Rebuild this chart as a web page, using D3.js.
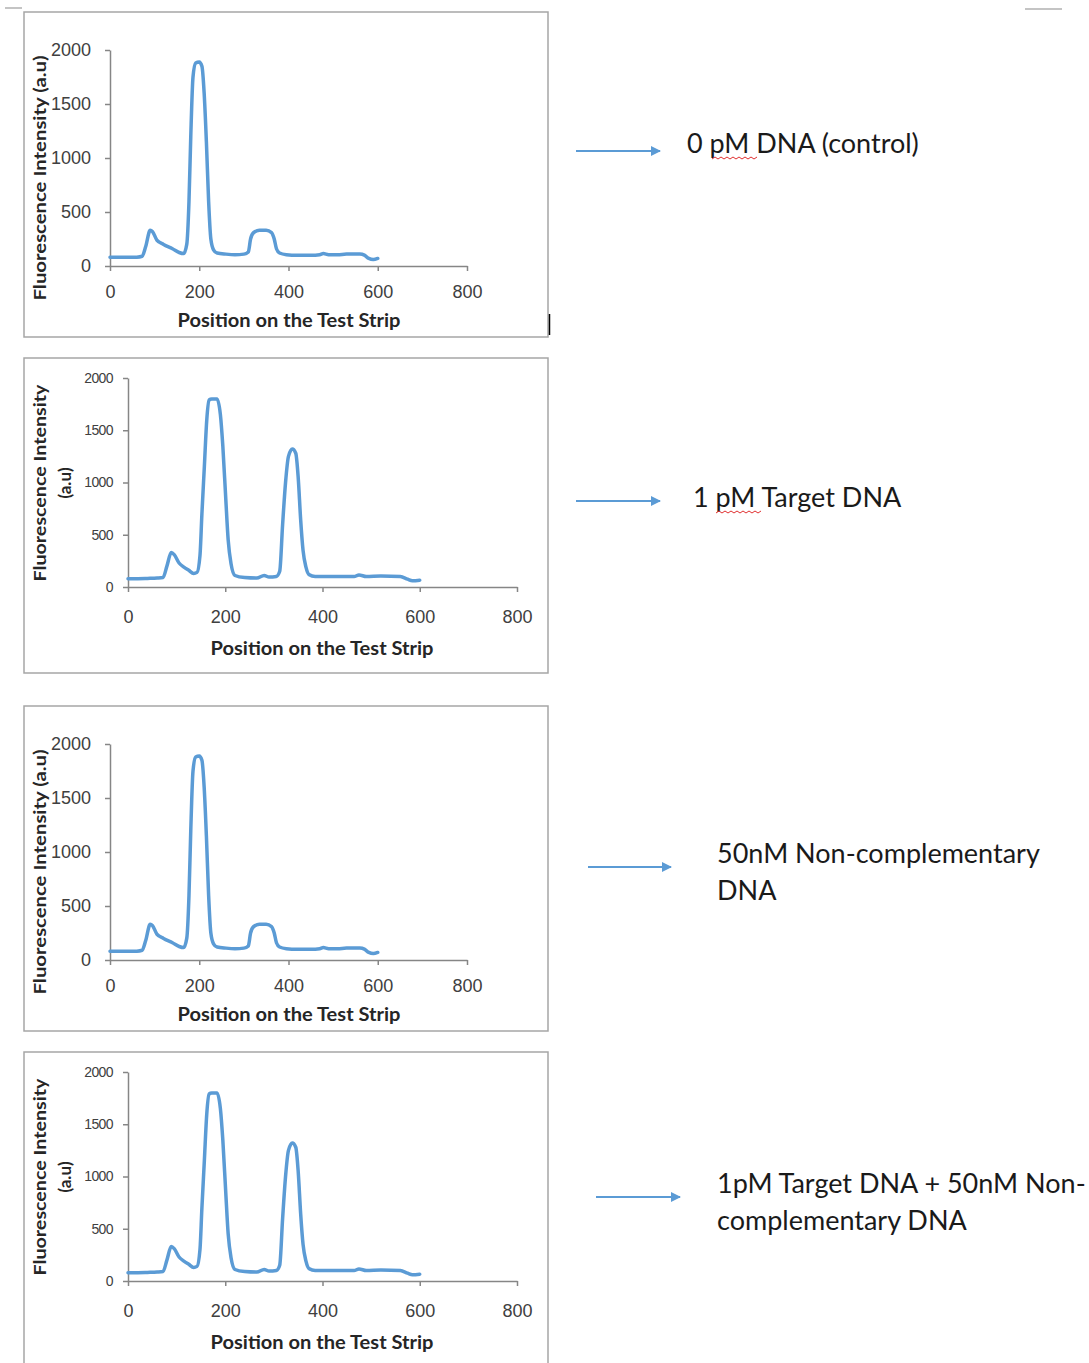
<!DOCTYPE html>
<html lang="en">
<head>
<meta charset="UTF-8">
<title>Test strip fluorescence profiles</title>
<script src="https://d3js.org/d3.v7.min.js"></script>
<style>
    body { margin: 0; background: #fff; }
    svg { display: block; font-family: Lato, "Open Sans", sans-serif; }
    .axis path, .axis line { stroke: #868686; stroke-width: 1.5; }
    .axis text { fill: #404040; }
</style>
</head>
<body>
<div id="chart"></div>
<script>
    // x positions and intensities
    const controlPos = [0, 20, 40, 60, 72, 80, 90, 95, 105, 120, 140, 155, 165, 172, 177, 181, 186, 192, 200, 206, 211, 216, 221, 226, 232, 240, 260, 280, 300, 310, 315, 322, 335, 350, 362, 368, 373, 380, 395, 420, 450, 470, 478, 490, 510, 530, 560, 570, 580, 590, 600];
    const controlVal = [80, 80, 80, 82, 90, 180, 330, 320, 240, 200, 160, 125, 115, 200, 600, 1200, 1750, 1880, 1890, 1850, 1600, 1150, 600, 250, 150, 120, 110, 105, 110, 130, 250, 310, 330, 330, 310, 250, 160, 120, 105, 100, 100, 105, 115, 105, 105, 110, 110, 100, 70, 60, 70];

    const targetPos = [0, 20, 40, 60, 72, 80, 89, 95, 105, 115, 125, 135, 142, 148, 152, 157, 162, 167, 172, 183, 190, 195, 201, 206, 212, 220, 240, 265, 280, 290, 305, 312, 318, 324, 330, 338, 345, 350, 355, 360, 366, 372, 385, 420, 465, 475, 490, 520, 560, 575, 585, 600];
    const targetVal = [80, 80, 82, 85, 90, 200, 330, 310, 230, 190, 160, 130, 140, 300, 700, 1150, 1600, 1790, 1800, 1800, 1650, 1350, 850, 450, 220, 110, 90, 85, 110, 95, 100, 150, 600, 1000, 1250, 1320, 1280, 1050, 650, 350, 190, 120, 100, 100, 100, 115, 100, 105, 100, 75, 60, 65];

    // 50nM non-complementary looks the same as the control, the mix the same as 1 pM target
    const nonCompPos = controlPos;
    const nonCompVal = controlVal;
    const mixPos = targetPos;
    const mixVal = targetVal;

    const xTicks = [0, 200, 400, 600, 800];
    const yTicks = [0, 500, 1000, 1500, 2000];
    const xTitle = "Position on the Test Strip";
    const labels = [
        ["0 pM DNA (control)"],
        ["1 pM Target DNA"],
        ["50nM Non-complementary", "DNA"],
        ["1pM Target DNA + 50nM Non-", "complementary DNA"]
    ];

    const blue = "#5B9BD5";
    const svg = d3.select("#chart").append("svg")
        .attr("width", 1089)
        .attr("height", 1363);

    // two chart styles: "a" = large tick labels, one-line y title; "b" = small y ticks, two-line title
    const panels = [
        { pos: controlPos, val: controlVal, style: "a", top: 12, bottom: 337, x0: 110, x1: 467, y0: 266, y1: 50,
          arrow: [576, 660, 151], text: [687, 153], squiggle: [712, 756] },
        { pos: targetPos, val: targetVal, style: "b", top: 358, bottom: 673, x0: 128, x1: 517, y0: 587, y1: 378,
          arrow: [576, 660, 501], text: [693, 507], squiggle: [716, 760] },
        { pos: nonCompPos, val: nonCompVal, style: "a", top: 706, bottom: 1031, x0: 110, x1: 467, y0: 960, y1: 744,
          arrow: [588, 671, 867], text: [717, 863] },
        { pos: mixPos, val: mixVal, style: "b", top: 1052, bottom: null, x0: 128, x1: 517, y0: 1281, y1: 1072,
          arrow: [596, 680, 1197], text: [717, 1193] }
    ];

    svg.append("defs").append("marker")
        .attr("id", "head")
        .attr("viewBox", "0 0 10 10")
        .attr("refX", 9).attr("refY", 5)
        .attr("markerWidth", 5).attr("markerHeight", 5)
        .attr("markerUnits", "strokeWidth")
        .attr("orient", "auto")
        .append("path")
        .attr("d", "M0,0 L10,5 L0,10 z")
        .attr("fill", blue);

    panels.forEach((p, i) => {
        const g = svg.append("g");

        // frame
        if (p.bottom) {
            g.append("rect")
                .attr("x", 24).attr("y", p.top)
                .attr("width", 524).attr("height", p.bottom - p.top)
                .attr("fill", "none").attr("stroke", "#a6a6a6").attr("stroke-width", 1.5);
        } else {
            g.append("path")
                .attr("d", `M24,1363 V${p.top} H548 V1363`)
                .attr("fill", "none").attr("stroke", "#a6a6a6").attr("stroke-width", 1.5);
        }

        const x = d3.scaleLinear().domain([0, 800]).range([p.x0, p.x1]);
        const y = d3.scaleLinear().domain([0, 2000]).range([p.y0, p.y1]);

        const xAxis = g.append("g").attr("class", "axis")
            .attr("transform", `translate(0,${p.y0})`)
            .call(d3.axisBottom(x).tickValues(xTicks).tickFormat(d3.format("d"))
                .tickSize(5).tickSizeOuter(0).tickPadding(p.style === "a" ? 11 : 15));
        xAxis.selectAll("text")
            .attr("font-size", 18).attr("dy", "0.9em");

        const yAxis = g.append("g").attr("class", "axis")
            .attr("transform", `translate(${p.x0},0)`)
            .call(d3.axisLeft(y).tickValues(yTicks).tickFormat(d3.format("d"))
                .tickSize(5).tickSizeOuter(0).tickPadding(p.style === "a" ? 14 : 10));
        if (p.style === "a") {
            yAxis.selectAll("text").attr("font-size", 18);
        } else {
            yAxis.selectAll("text")
                .attr("font-size", 14)
                .attr("fill", "#595959")
                .attr("letter-spacing", -0.6);
        }

        // series line
        const pts = p.pos.map((d, k) => [d, p.val[k]]);
        g.append("path")
            .datum(pts)
            .attr("fill", "none")
            .attr("stroke", blue)
            .attr("stroke-width", 3.5)
            .attr("stroke-linejoin", "round")
            .attr("stroke-linecap", "round")
            .attr("d", d3.line().x(d => x(d[0])).y(d => y(d[1])).curve(d3.curveMonotoneX));

        // titles
        const xMid = p.style === "a" ? 289 : 322;
        const xBase = p.style === "a" ? p.y0 + 61 : p.y0 + 68;
        g.append("text")
            .attr("x", xMid).attr("y", xBase)
            .attr("text-anchor", "middle")
            .attr("font-size", 18).attr("font-weight", 700).attr("fill", "#262626")
            .attr("textLength", 223).attr("lengthAdjust", "spacingAndGlyphs")
            .text(xTitle);

        if (p.style === "a") {
            g.append("text")
                .attr("transform", `translate(46,${p.y0 - 88}) rotate(-90)`)
                .attr("text-anchor", "middle")
                .attr("font-size", 17).attr("font-weight", 700).attr("fill", "#262626")
                .attr("textLength", 245).attr("lengthAdjust", "spacingAndGlyphs")
                .text("Fluorescence Intensity (a.u)");
        } else {
            g.append("text")
                .attr("transform", `translate(46,${p.y0 - 104}) rotate(-90)`)
                .attr("text-anchor", "middle")
                .attr("font-size", 17).attr("font-weight", 700).attr("fill", "#262626")
                .attr("textLength", 197).attr("lengthAdjust", "spacingAndGlyphs")
                .text("Fluorescence Intensity");
            g.append("text")
                .attr("transform", `translate(71,${p.y0 - 104}) rotate(-90)`)
                .attr("text-anchor", "middle")
                .attr("font-size", 17).attr("font-weight", 700).attr("fill", "#262626")
                .text("(a.u)");
        }

        // arrow + label on the right
        g.append("line")
            .attr("x1", p.arrow[0]).attr("x2", p.arrow[1])
            .attr("y1", p.arrow[2]).attr("y2", p.arrow[2])
            .attr("stroke", blue).attr("stroke-width", 2)
            .attr("marker-end", "url(#head)");

        labels[i].forEach((line, k) => {
            g.append("text")
                .attr("x", p.text[0]).attr("y", p.text[1] + k * 37)
                .attr("font-size", 27).attr("fill", "#1a1a1a")
                .text(line);
        });

        // red spell-check squiggle under "pM"
        if (p.squiggle) {
            const [a, b] = p.squiggle;
            let d = `M${a},${p.text[1] + 6}`;
            for (let sx = a, up = true; sx < b; sx += 3, up = !up) {
                d += ` L${sx + 3},${p.text[1] + (up ? 4 : 6)}`;
            }
            g.append("path").attr("d", d)
                .attr("fill", "none").attr("stroke", "#e03030").attr("stroke-width", 1);
        }
    });

    // stray marks from the source page
    svg.append("line").attr("x1", 5).attr("x2", 22).attr("y1", 8).attr("y2", 8)
        .attr("stroke", "#b0b0b0").attr("stroke-width", 1.5);
    svg.append("line").attr("x1", 1025).attr("x2", 1062).attr("y1", 9).attr("y2", 9)
        .attr("stroke", "#b0b0b0").attr("stroke-width", 1.5);
    svg.append("line").attr("x1", 549.5).attr("x2", 549.5).attr("y1", 314).attr("y2", 335)
        .attr("stroke", "#000").attr("stroke-width", 1.5);
</script>
</body>
</html>
